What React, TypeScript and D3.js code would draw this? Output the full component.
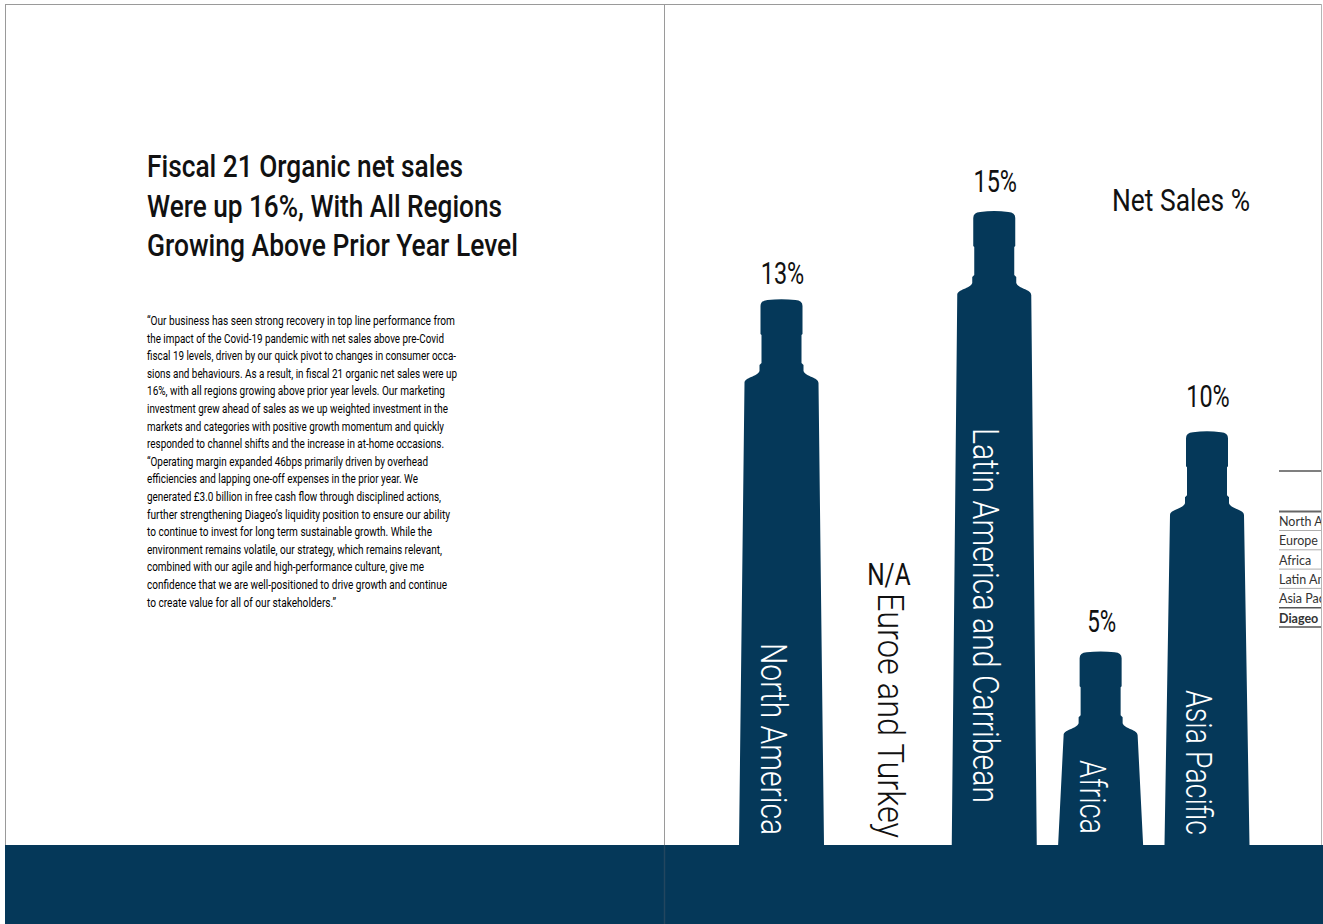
import React from 'react';
import * as d3 from 'd3';

// ---------- data ----------
const regions = ['North America', 'Euroe and Turkey', 'Latin America and Carribean', 'Africa', 'Asia Pacific'];
const netSalesPct: (number | null)[] = [13, null, 15, 5, 10];
const valueLabels = ['13%', 'N/A', '15%', '5%', '10%'];
const chartTitle = 'Net Sales %';
const titleLines = [
  'Fiscal 21 Organic net sales',
  'Were up 16%, With All Regions',
  'Growing Above Prior Year Level',
];
const quoteLines = [
  '“Our business has seen strong recovery in top line performance from',
  'the impact of the Covid-19 pandemic with net sales above pre-Covid',
  'fiscal 19 levels, driven by our quick pivot to changes in consumer occa-',
  'sions and behaviours. As a result, in fiscal 21 organic net sales were up',
  '16%, with all regions growing above prior year levels. Our marketing',
  'investment grew ahead of sales as we up weighted investment in the',
  'markets and categories with positive growth momentum and quickly',
  'responded to channel shifts and the increase in at-home occasions.',
  '“Operating margin expanded 46bps primarily driven by overhead',
  'efficiencies and lapping one-off expenses in the prior year. We',
  'generated £3.0 billion in free cash flow through disciplined actions,',
  'further strengthening Diageo’s liquidity position to ensure our ability',
  'to continue to invest for long term sustainable growth. While the',
  'environment remains volatile, our strategy, which remains relevant,',
  'combined with our agile and high-performance culture, give me',
  'confidence that we are well-positioned to drive growth and continue',
  'to create value for all of our stakeholders.”',
];
const tableRows = ['North America', 'Europe and Turkey', 'Africa', 'Latin America and Caribbean', 'Asia Pacific', 'Diageo'];

// ---------- layout ----------
const W = 1323;
const H = 924;
const BASE = 845;
const NAVY = '#053859';
const FONT = 'Roboto, "Noto Sans", sans-serif';
const titleEnds = [463, 502, 518];
const quoteEnds = [455, 444, 456, 457, 445, 448, 444, 444, 428, 418, 441, 450, 432, 442, 424, 447, 336];
const rotLabel: Record<string, { start: number; end: number; dx: number; pctGap: number }> = {
  'North America': { start: 643, end: 835, dx: -21, pctGap: 15 },
  'Euroe and Turkey': { start: 593, end: 838, dx: -10, pctGap: 0 },
  'Latin America and Carribean': { start: 428, end: 803, dx: -21, pctGap: 19 },
  'Africa': { start: 760, end: 834, dx: -21, pctGap: 19 },
  'Asia Pacific': { start: 690, end: 835, dx: -21, pctGap: 24 },
};

const x = d3.scalePoint<string>().domain(regions).range([781.5, 1207]);
const y = d3.scaleLinear().domain([0.6, 15]).range([BASE, 211]);

function bottlePath(cx: number, top: number, base: number): string {
  const p = d3.path();
  const hwBase = 42.5, hwBody = 37, hwCollar = 22, hwNeck = 20, hwCap = 21;
  p.moveTo(cx - hwBase, base);
  p.lineTo(cx - hwBody, top + 84);
  p.bezierCurveTo(cx - hwBody, top + 78, cx - hwCollar - 2, top + 78, cx - hwCollar, top + 72);
  p.lineTo(cx - hwCollar, top + 66);
  p.lineTo(cx - hwNeck, top + 64);
  p.lineTo(cx - hwNeck, top + 36);
  p.lineTo(cx - hwCap, top + 35);
  p.lineTo(cx - hwCap, top + 7);
  p.quadraticCurveTo(cx - hwCap, top + 1.5, cx - 14, top + 1);
  p.quadraticCurveTo(cx, top - 0.8, cx + 14, top + 1);
  p.quadraticCurveTo(cx + hwCap, top + 1.5, cx + hwCap, top + 7);
  p.lineTo(cx + hwCap, top + 35);
  p.lineTo(cx + hwNeck, top + 36);
  p.lineTo(cx + hwNeck, top + 64);
  p.lineTo(cx + hwCollar, top + 66);
  p.lineTo(cx + hwCollar, top + 72);
  p.bezierCurveTo(cx + hwCollar + 2, top + 78, cx + hwBody, top + 78, cx + hwBody, top + 84);
  p.lineTo(cx + hwBase, base);
  p.closePath();
  return p.toString();
}

export default function App() {
  const rowY = d3.range(tableRows.length).map((i) => 526 + i * 19.3);
  return (
    <svg
      width={W}
      height={H}
      viewBox={`0 0 ${W} ${H}`}
      style={{ position: 'absolute', left: 0, top: 0, display: 'block', background: '#fff' }}
    >
      <defs>
        <clipPath id="pageClip">
          <rect x={0} y={0} width={1321} height={H} />
        </clipPath>
      </defs>

      {/* page frame */}
      <line x1={5} y1={4.5} x2={1321} y2={4.5} stroke="#9a9a9a" strokeWidth={1} />
      <line x1={5.5} y1={4} x2={5.5} y2={BASE} stroke="#9a9a9a" strokeWidth={1} />
      <line x1={1321.5} y1={4} x2={1321.5} y2={BASE} stroke="#b5b5b5" strokeWidth={1} />
      <line x1={664.5} y1={4} x2={664.5} y2={BASE} stroke="#9a9a9a" strokeWidth={1} />

      {/* bottom band */}
      <rect x={5} y={BASE} width={W - 5} height={H - BASE} fill={NAVY} />
      <line x1={664.5} y1={BASE} x2={664.5} y2={H} stroke="#23465f" strokeWidth={1.5} />

      {/* title */}
      {titleLines.map((t, i) => (
        <text
          key={t}
          x={147}
          y={177 + i * 39.5}
          fontFamily={FONT}
          fontSize={31}
          fontWeight={500}
          fill="#111"
          textLength={titleEnds[i] - 147}
          lengthAdjust="spacingAndGlyphs"
        >
          {t}
        </text>
      ))}

      {/* quote */}
      {quoteLines.map((t, i) => (
        <text
          key={i}
          x={147}
          y={325 + i * 17.6}
          fontFamily={FONT}
          fontSize={13}
          fill="#000"
          textLength={quoteEnds[i] - 147}
          lengthAdjust="spacingAndGlyphs"
        >
          {t}
        </text>
      ))}

      {/* chart title */}
      <text x={1112} y={211} fontFamily={FONT} fontSize={32} fill="#111" textLength={138} lengthAdjust="spacingAndGlyphs">
        {chartTitle}
      </text>

      {/* bottles */}
      {regions.map((r, i) => {
        const v = netSalesPct[i];
        const cx = x(r)!;
        const lay = rotLabel[r];
        const top = v == null ? null : y(v);
        return (
          <g key={r}>
            {top != null && <path d={bottlePath(cx, top, BASE)} fill={NAVY} />}
            <text
              x={cx + 1}
              y={top != null ? top - lay.pctGap : 585}
              textAnchor="middle"
              fontFamily={FONT}
              fontSize={31}
              fill="#111"
              textLength={valueLabels[i].length * 14.5}
              lengthAdjust="spacingAndGlyphs"
            >
              {valueLabels[i]}
            </text>
            <text
              transform={`translate(${cx + lay.dx},${lay.start}) rotate(90)`}
              fontFamily={FONT}
              fontSize={36}
              fontWeight={300}
              fill={v == null ? '#111' : '#fff'}
              textLength={lay.end - lay.start}
              lengthAdjust="spacingAndGlyphs"
            >
              {r}
            </text>
          </g>
        );
      })}

      {/* clipped table fragment at page edge */}
      <g clipPath="url(#pageClip)">
        <line x1={1279} y1={471} x2={1323} y2={471} stroke="#555" strokeWidth={1.5} />
        <line x1={1279} y1={511.5} x2={1323} y2={511.5} stroke="#666" strokeWidth={2} />
        {tableRows.map((t, i) => (
          <g key={t}>
            <text
              x={1279}
              y={rowY[i]}
              fontFamily='Lato, "Open Sans", sans-serif'
              fontSize={12.5}
              fontWeight={i === tableRows.length - 1 ? 700 : 400}
              fill="#333"
            >
              {t}
            </text>
            <line
              x1={1279}
              y1={rowY[i] + 4.5}
              x2={1323}
              y2={rowY[i] + 4.5}
              stroke={i >= tableRows.length - 2 ? '#555' : '#999'}
              strokeWidth={i >= tableRows.length - 2 ? 1.5 : 0.8}
            />
          </g>
        ))}
      </g>
    </svg>
  );
}
